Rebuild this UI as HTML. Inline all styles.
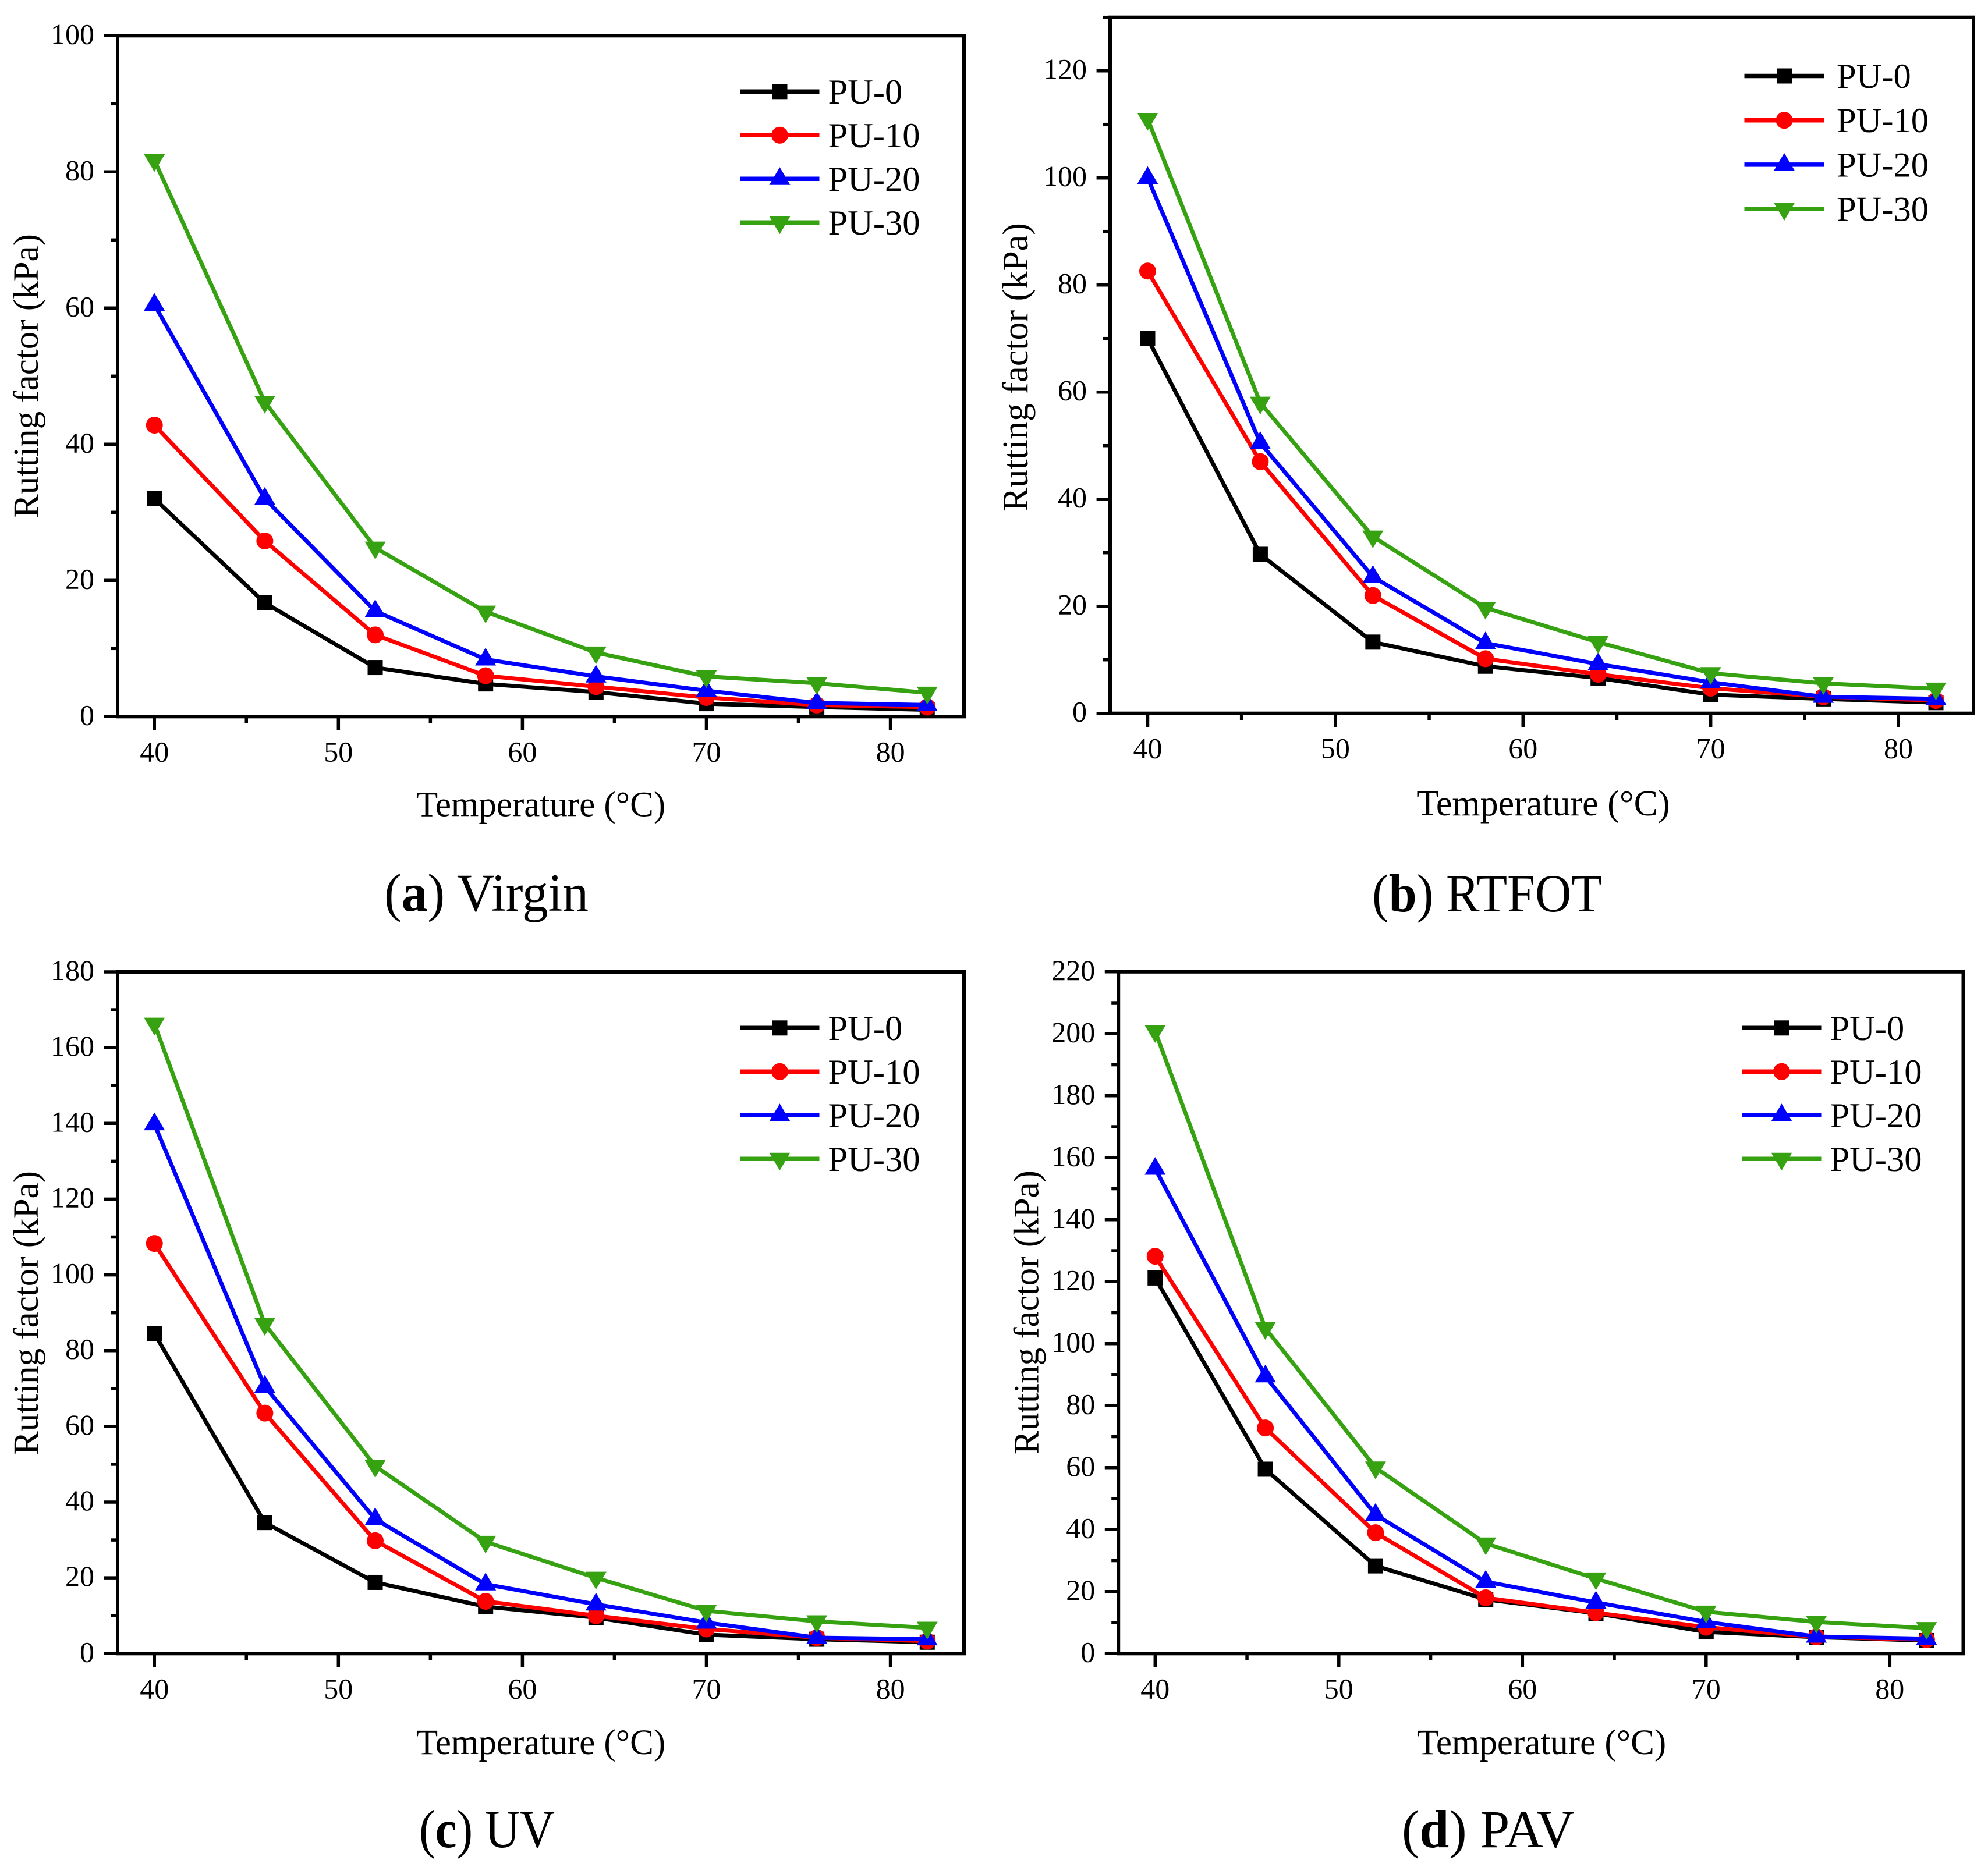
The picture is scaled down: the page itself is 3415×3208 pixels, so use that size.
<!DOCTYPE html>
<html lang="en">
<head>
<meta charset="utf-8">
<title>Rutting factor vs temperature</title>
<style>
html,body{margin:0;padding:0;background:#fff;}
svg{display:block;font-family:"Liberation Serif",serif;fill:#000;}
.lg text{font-size:60.5px;}
.title{font-size:61px;}
.title-wide{font-size:62px;}
.cap{font-size:92px;}
.tick{font-size:50px;}
</style>
</head>
<body>
<svg id="figure" xmlns="http://www.w3.org/2000/svg" width="3415" height="3208" viewBox="0 0 3415 3208">
<rect width="3415" height="3208" fill="#fff"/>

<g id="panel-a">
  <text class="title" x="929" y="1402.7" text-anchor="middle">Temperature (°C)</text>
  <text class="title" transform="translate(65,646) rotate(-90)" text-anchor="middle">Rutting factor (kPa)</text>
  <text class="cap" x="660" y="1565" textLength="351" lengthAdjust="spacingAndGlyphs">(<tspan font-weight="bold">a</tspan>) Virgin</text>
</g>
<g id="panel-b">
  <text class="title-wide" x="2651" y="1401" text-anchor="middle">Temperature (°C)</text>
  <text class="title-wide" transform="translate(1765,631) rotate(-90)" text-anchor="middle">Rutting factor (kPa)</text>
  <text class="cap" x="2357" y="1566" textLength="395" lengthAdjust="spacingAndGlyphs">(<tspan font-weight="bold">b</tspan>) RTFOT</text>
</g>
<g id="panel-c">
  <text class="title" x="929" y="3014" text-anchor="middle">Temperature (°C)</text>
  <text class="title" transform="translate(65,2256) rotate(-90)" text-anchor="middle">Rutting factor (kPa)</text>
  <text class="cap" x="720" y="3174" textLength="233" lengthAdjust="spacingAndGlyphs">(<tspan font-weight="bold">c</tspan>) UV</text>
</g>
<g id="panel-d">
  <text class="title" x="2648" y="3014" text-anchor="middle">Temperature (°C)</text>
  <text class="title" transform="translate(1783.5,2255) rotate(-90)" text-anchor="middle">Rutting factor (kPa)</text>
  <text class="cap" x="2408" y="3174" textLength="297" lengthAdjust="spacingAndGlyphs">(<tspan font-weight="bold">d</tspan>) PAV</text>
</g>

<script>
// Shared axis data
const temperatures = [40, 46, 52, 58, 64, 70, 76, 82];
const xMajorTicks = [40, 50, 60, 70, 80];
const xMinorTicks = [45, 55, 65, 75];
const seriesNames = ['PU-0', 'PU-10', 'PU-20', 'PU-30'];

// (a) Virgin
const virginPU0 = [32, 16.7, 7.2, 4.8, 3.6, 1.9, 1.4, 1.0];
const virginPU10 = [42.8, 25.8, 12, 6, 4.4, 2.8, 1.7, 1.4];
const virginPU20 = [60.5, 32, 15.5, 8.4, 5.9, 3.8, 2.0, 1.7];
const virginPU30 = [81.7, 46.2, 24.8, 15.4, 9.4, 5.9, 4.9, 3.5];
const virginYTicks = [0, 20, 40, 60, 80, 100];
const virginYMinor = [10, 30, 50, 70, 90];

// (b) RTFOT
const rtfotPU0 = [70, 29.7, 13.3, 8.8, 6.6, 3.5, 2.7, 2.0];
const rtfotPU10 = [82.6, 47, 22, 10.2, 7.3, 4.7, 3.1, 2.4];
const rtfotPU20 = [100, 50.5, 25.5, 13.1, 9.2, 5.8, 3.1, 2.7];
const rtfotPU30 = [111, 58, 33, 19.7, 13.3, 7.5, 5.6, 4.6];
const rtfotYTicks = [0, 20, 40, 60, 80, 100, 120];
const rtfotYMinor = [10, 30, 50, 70, 90, 110, 130];

// (c) UV
const uvPU0 = [84.5, 34.6, 18.8, 12.4, 9.5, 5, 3.8, 3];
const uvPU10 = [108.3, 63.5, 29.8, 13.8, 10, 6.5, 4.2, 3.3];
const uvPU20 = [139.8, 70.5, 35.5, 18.3, 13, 8.2, 4.2, 3.8];
const uvPU30 = [166.3, 87, 49.5, 29.5, 20, 11.3, 8.5, 6.8];
const uvYTicks = [0, 20, 40, 60, 80, 100, 120, 140, 160, 180];
const uvYMinor = [10, 30, 50, 70, 90, 110, 130, 150, 170];

// (d) PAV
const pavPU0 = [121.2, 59.5, 28.3, 17.5, 13, 7, 5.3, 4.2];
const pavPU10 = [128.2, 72.8, 39, 18, 13.2, 8.5, 5.4, 4.5];
const pavPU20 = [156.5, 89.5, 44.8, 23.2, 16.5, 10.2, 5.5, 4.8];
const pavPU30 = [200.8, 105, 60, 35.5, 24.2, 13.5, 10.2, 8.2];
const pavYTicks = [0, 20, 40, 60, 80, 100, 120, 140, 160, 180, 200, 220];
const pavYMinor = [10, 30, 50, 70, 90, 110, 130, 150, 170, 190, 210];

const NS = 'http://www.w3.org/2000/svg';
const seriesColors = ['#000000', '#ff0000', '#0000ff', '#36a212'];

function make(tag, parent, attrs) {
  const el = document.createElementNS(NS, tag);
  for (const k in attrs) el.setAttribute(k, attrs[k]);
  parent.appendChild(el);
  return el;
}

function drawMarker(parent, kind, cx, cy, color) {
  let el;
  if (kind === 0) {
    el = make('rect', parent, {x: cx - 13, y: cy - 13, width: 26, height: 26, fill: color});
  } else if (kind === 1) {
    el = make('circle', parent, {cx: cx, cy: cy, r: 14.5, fill: color});
  } else if (kind === 2) {
    el = make('polygon', parent, {points: [cx, cy - 20, cx + 18, cy + 10.5, cx - 18, cy + 10.5].join(' '), fill: color});
  } else {
    el = make('polygon', parent, {points: [cx, cy + 20, cx + 18, cy - 10.5, cx - 18, cy - 10.5].join(' '), fill: color});
  }
  
  
  return el;
}

function drawPanel(id, box, yTicks, yMinor, series, legend) {
  const g = document.getElementById(id);
  const xScale = function (v) { return box.left + (v - box.xMin) / (box.xMax - box.xMin) * (box.right - box.left); };
  const yScale = function (v) { return box.bottom - (v - box.yMin) / (box.yMax - box.yMin) * (box.bottom - box.top); };

  // frame
  const frame = make('rect', g, {x: box.left, y: box.top, width: box.right - box.left, height: box.bottom - box.top, fill: 'none', stroke: '#000', 'stroke-width': 6});
  
  

  // x ticks
  xMajorTicks.forEach(function (t) {
    const x = xScale(t);
    const tick = make('line', g, {x1: x, x2: x, y1: box.bottom, y2: box.bottom + 23.4, stroke: '#000', 'stroke-width': 5.5});
    
    
    const label = make('text', g, {x: x, y: box.bottom + 77, 'text-anchor': 'middle', class: 'tick'});
    label.textContent = String(t);
    
    
  });
  xMinorTicks.forEach(function (t) {
    const x = xScale(t);
    const tick = make('line', g, {x1: x, x2: x, y1: box.bottom, y2: box.bottom + 11.6, stroke: '#000', 'stroke-width': 5.5});
    
    
  });

  // y ticks
  yTicks.forEach(function (t) {
    const y = yScale(t);
    const tick = make('line', g, {x1: box.left, x2: box.left - 23.4, y1: y, y2: y, stroke: '#000', 'stroke-width': 5.5});
    
    
    const label = make('text', g, {x: box.left - 40, y: y + 14, 'text-anchor': 'end', class: 'tick'});
    label.textContent = String(t);
    
    
  });
  yMinor.forEach(function (t) {
    const y = yScale(t);
    const tick = make('line', g, {x1: box.left, x2: box.left - 12, y1: y, y2: y, stroke: '#000', 'stroke-width': 5.5});
    
    
  });

  // series
  series.forEach(function (values, s) {
    const sg = make('g', g, {});
    
    
    const pts = values.map(function (v, i) { return xScale(temperatures[i]) + ',' + yScale(v); }).join(' ');
    const line = make('polyline', sg, {points: pts, fill: 'none', stroke: seriesColors[s], 'stroke-width': 7, 'stroke-linejoin': 'round'});
    
    
    values.forEach(function (v, i) {
      drawMarker(sg, s, xScale(temperatures[i]), yScale(v), seriesColors[s]);
    });
  });

  // legend
  const lg = make('g', g, {class: 'lg'});
  
  
  seriesNames.forEach(function (name, s) {
    const y = legend.y + s * legend.dy;
    const entry = make('g', lg, {});
    
    
    const sw = make('line', entry, {x1: legend.x, x2: legend.x + 136.5, y1: y, y2: y, stroke: seriesColors[s], 'stroke-width': 7.5});
    
    
    drawMarker(entry, s, legend.x + 68.5, y, seriesColors[s]);
    const t = make('text', entry, {x: legend.x + legend.textGap, y: y + 20.5});
    t.textContent = name;
    
    
  });
}

drawPanel('panel-a',
  {left: 202, right: 1656, top: 61.3, bottom: 1231.3, xMin: 38, xMax: 84, yMin: 0, yMax: 100},
  virginYTicks, virginYMinor, [virginPU0, virginPU10, virginPU20, virginPU30],
  {x: 1271, y: 157.3, dy: 75, textGap: 151.5});
drawPanel('panel-b',
  {left: 1907, right: 3390, top: 29.7, bottom: 1225.7, xMin: 38, xMax: 84, yMin: 0, yMax: 130},
  rtfotYTicks, rtfotYMinor, [rtfotPU0, rtfotPU10, rtfotPU20, rtfotPU30],
  {x: 2996.5, y: 130.5, dy: 76.2, textGap: 158.5});
drawPanel('panel-c',
  {left: 202, right: 1656, top: 1670, bottom: 2841.3, xMin: 38, xMax: 84, yMin: 0, yMax: 180},
  uvYTicks, uvYMinor, [uvPU0, uvPU10, uvPU20, uvPU30],
  {x: 1271, y: 1766.3, dy: 75, textGap: 151.5});
drawPanel('panel-d',
  {left: 1921.2, right: 3372.5, top: 1669.8, bottom: 2841.3, xMin: 38, xMax: 84, yMin: 0, yMax: 220},
  pavYTicks, pavYMinor, [pavPU0, pavPU10, pavPU20, pavPU30],
  {x: 2992, y: 1766.3, dy: 75, textGap: 151.5});
</script>
</svg>
</body>
</html>
